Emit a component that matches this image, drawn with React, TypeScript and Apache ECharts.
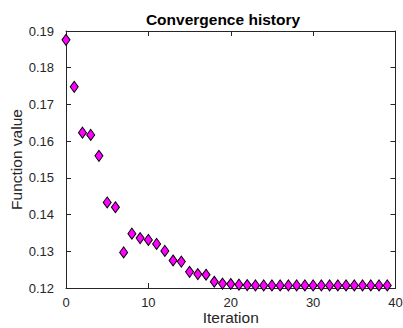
import React, { useEffect, useRef } from "react";
import * as echarts from "echarts";

// Objective value recorded at each optimizer iteration
const iterations: number[] = Array.from({ length: 40 }, (_, i) => i);
const functionValues: number[] = [
  0.1876, 0.1748, 0.1623, 0.1617, 0.156, 0.1433, 0.142, 0.1297, 0.1348, 0.1336,
  0.1331, 0.132, 0.1301, 0.1275, 0.1272, 0.1244, 0.1238, 0.1236, 0.1217, 0.1212,
  0.1211, 0.1209, 0.1208, 0.1207, 0.1207, 0.1207, 0.1207, 0.1207, 0.1207, 0.1207,
  0.1207, 0.1207, 0.1207, 0.1207, 0.1207, 0.1207, 0.1207, 0.1207, 0.1207, 0.1207,
];
const xTicks = { min: 0, max: 40, interval: 10 };
const yTicks = { min: 0.12, max: 0.19, interval: 0.01 };

const FONT = "'Liberation Sans', Arial, Helvetica, sans-serif";
const AXIS_COLOR = "#262626";

export default function App() {
  const ref = useRef<HTMLDivElement>(null);

  useEffect(() => {
    if (!ref.current) return;
    const chart = echarts.init(ref.current, undefined, { renderer: "svg" });

    const axisLine = { show: true, onZero: false, lineStyle: { color: AXIS_COLOR, width: 1 } };
    const axisTick = { show: true, inside: true, length: 5, lineStyle: { color: AXIS_COLOR, width: 1 } };

    chart.setOption({
      animation: false,
      backgroundColor: "#ffffff",
      textStyle: { fontFamily: FONT },
      title: {
        text: "Convergence history",
        left: 218,
        textAlign: "center",
        top: 6,
        textStyle: { fontFamily: FONT, fontSize: 15.5, fontWeight: "bold", color: "#000000" },
      },
      grid: {
        left: 66,
        right: 7.5,
        top: 31,
        bottom: 40,
        containLabel: false,
        outerBoundsMode: "none",
      },
      xAxis: [
        {
          type: "value",
          position: "bottom",
          ...xTicks,
          name: "Iteration",
          nameLocation: "middle",
          nameGap: 21,
          nameMoveOverlap: false,
          nameTextStyle: { fontFamily: FONT, fontSize: 15.5, color: AXIS_COLOR },
          axisLine,
          axisTick,
          splitLine: { show: false },
          axisLabel: { fontFamily: FONT, fontSize: 13, color: AXIS_COLOR, margin: 8 },
        },
        {
          type: "value",
          position: "top",
          ...xTicks,
          axisLine,
          axisTick,
          splitLine: { show: false },
          axisLabel: { show: false },
        },
      ],
      yAxis: [
        {
          type: "value",
          position: "left",
          ...yTicks,
          name: "Function value",
          nameLocation: "middle",
          nameGap: 42,
          nameMoveOverlap: false,
          nameTextStyle: { fontFamily: FONT, fontSize: 15.5, color: AXIS_COLOR },
          axisLine,
          axisTick,
          splitLine: { show: false },
          axisLabel: {
            fontFamily: FONT,
            fontSize: 13,
            color: AXIS_COLOR,
            margin: 12,
            formatter: (v: number) => v.toFixed(2),
          },
        },
        {
          type: "value",
          position: "right",
          ...yTicks,
          axisLine,
          axisTick,
          splitLine: { show: false },
          axisLabel: { show: false },
        },
      ],
      series: [
        {
          type: "scatter",
          xAxisIndex: 0,
          yAxisIndex: 0,
          symbol: "diamond",
          symbolSize: [8, 11],
          itemStyle: { color: "#ff00ff", opacity: 1, borderColor: "#000000", borderWidth: 1 },
          data: iterations.map((it, i) => [it, functionValues[i]]),
        },
      ],
    });

    return () => chart.dispose();
  }, []);

  return (
    <div
      ref={ref}
      style={{ position: "fixed", left: 0, top: 0, width: 403, height: 328, background: "#fff" }}
    />
  );
}
